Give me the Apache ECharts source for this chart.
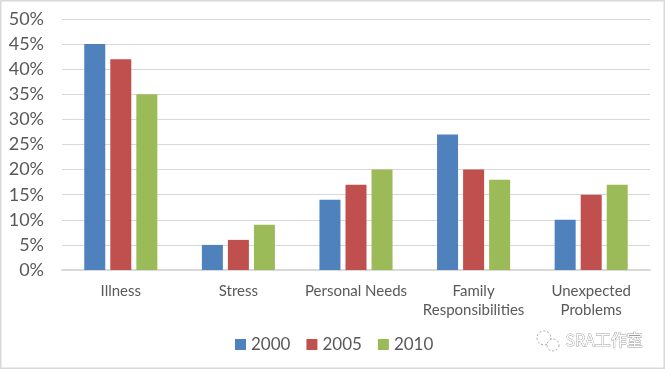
<!DOCTYPE html>
<html><head><meta charset="utf-8">
<style>html,body{margin:0;padding:0;background:#fff}#c{width:665px;height:369px}</style>
<script src="https://cdn.jsdelivr.net/npm/echarts@6/dist/echarts.min.js"></script>
</head><body><div id="c"></div>
<script>
const categories = ['Illness','Stress','Personal Needs','Family\nResponsibilities','Unexpected\nProblems'];
const years = ['2000','2005','2010'];
const values2000 = [45,5,14,27,10];
const values2005 = [42,6,17,20,15];
const values2010 = [35,9,20,18,17];
const colors = ['#4F81BD','#C0504D','#9BBB59'];
const font = 'Lato';
const chart = echarts.init(document.getElementById('c'));
chart.setOption({
  animation:false,
  color:colors,
  grid:{left:62,right:15,top:19,bottom:99},
  legend:{top:331,left:230,itemWidth:11,itemHeight:11,itemGap:16,itemStyle:{borderWidth:0},icon:'rect',
    textStyle:{fontFamily:font,fontSize:17,color:'#595959'},data:years},
  xAxis:{type:'category',data:categories,
    axisLine:{lineStyle:{color:'#D9D9D9',width:2}},axisTick:{show:false},
    axisLabel:{fontFamily:font,fontSize:15,color:'#595959',interval:0,lineHeight:19,margin:12}},
  yAxis:{type:'value',min:0,max:50,interval:5,
    axisLine:{show:false},axisTick:{show:false},
    splitLine:{lineStyle:{color:'#D9D9D9',width:1}},
    axisLabel:{fontFamily:font,fontSize:18,color:'#595959',formatter:'{value}%',margin:18}},
  series:[values2000,values2005,values2010].map((d,i)=>({
    name:years[i],type:'bar',data:d,barWidth:21,barGap:'24%'})),
  graphic:[
    {type:'rect',shape:{x:0.5,y:0.5,width:664,height:368},style:{fill:'none',stroke:'#D9D9D9',lineWidth:2},silent:true},
    {type:'text',left:565,top:332,style:{text:'SRA工作室',fontFamily:'Noto Sans CJK SC',fontSize:16,fill:'#ffffff',stroke:'#9a9a9a',lineWidth:0.8}},
    {type:'circle',shape:{cx:544,cy:338,r:7},style:{fill:'#fff',stroke:'#a5a5a5',lineWidth:1,lineDash:[2,2]}},
    {type:'circle',shape:{cx:553,cy:345,r:6},style:{fill:'#fff',stroke:'#a5a5a5',lineWidth:1,lineDash:[2,2]}}
  ]
});
</script></body></html>
